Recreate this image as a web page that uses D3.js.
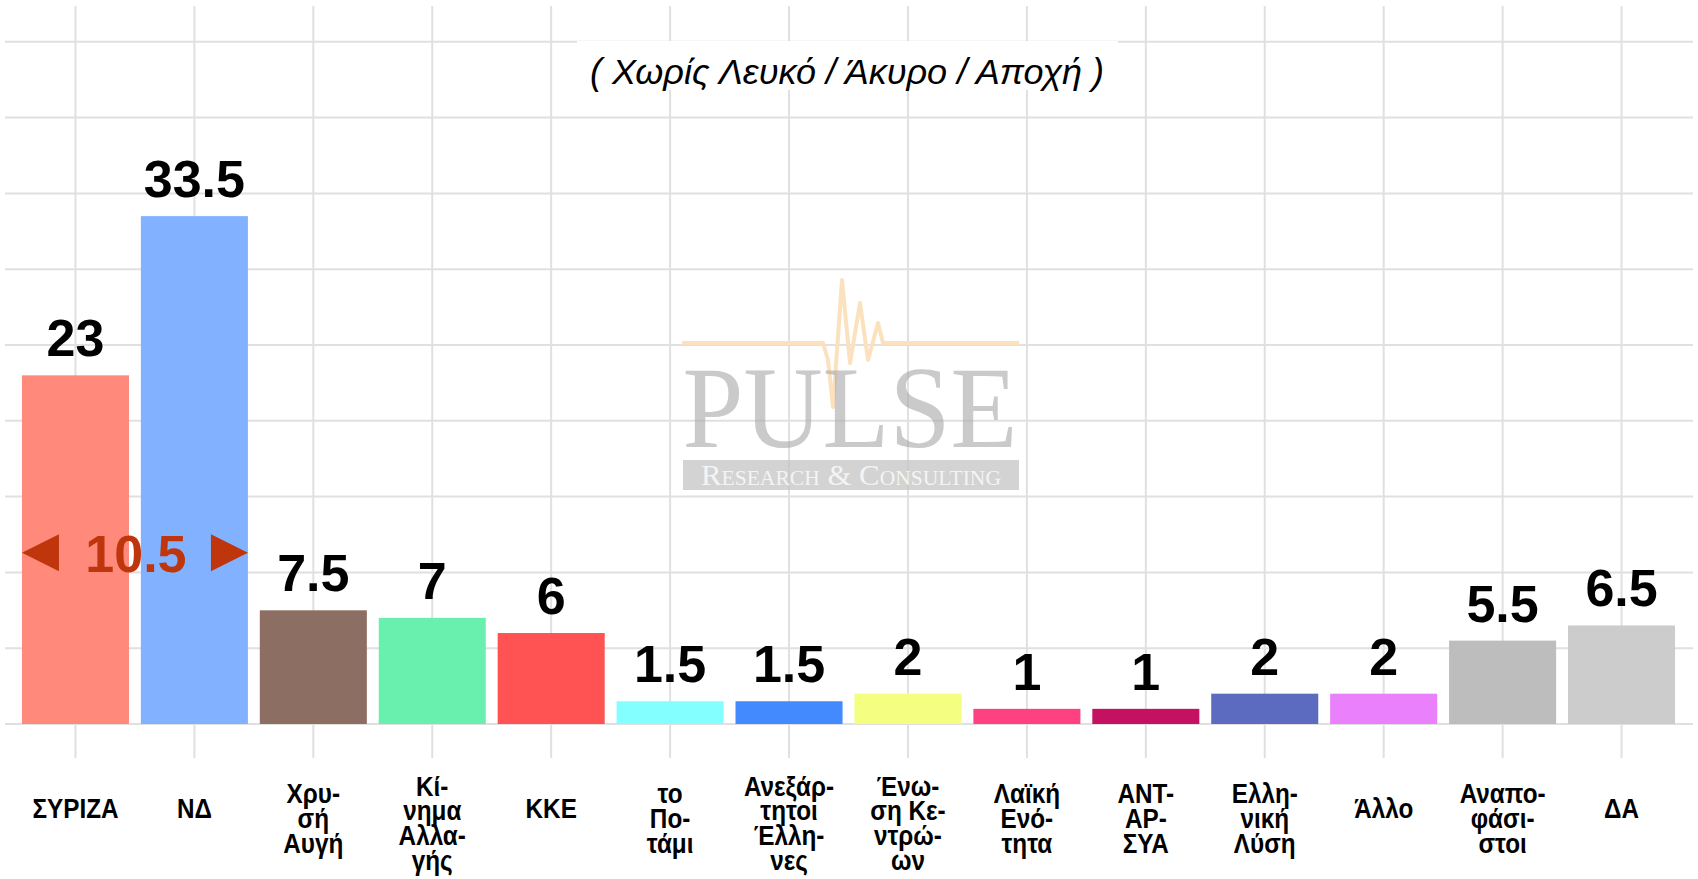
<!DOCTYPE html>
<html>
<head>
<meta charset="utf-8">
<script src="https://cdn.jsdelivr.net/npm/d3@7"></script>
<style>
  body { margin: 0; background: #fff; }
  svg { display: block; }
</style>
</head>
<body>
<svg id="pollChart" width="1698" height="879"></svg>
<script>
// poll results, percentages without blank / invalid / abstention
const parties = ["ΣΥΡΙΖΑ", "ΝΔ", "Χρυσή Αυγή", "Κίνημα Αλλαγής", "ΚΚΕ", "το Ποτάμι",
  "Ανεξάρτητοι Έλληνες", "Ένωση Κεντρώων", "Λαϊκή Ενότητα", "ΑΝΤΑΡΣΥΑ",
  "Ελληνική Λύση", "Άλλο", "Αναποφάσιστοι", "ΔΑ"];
const shares = [23, 33.5, 7.5, 7, 6, 1.5, 1.5, 2, 1, 1, 2, 2, 5.5, 6.5];
const tickLabels = [
  ["ΣΥΡΙΖΑ"], ["ΝΔ"], ["Χρυ-", "σή", "Αυγή"], ["Κί-", "νημα", "Αλλα-", "γής"], ["ΚΚΕ"],
  ["το", "Πο-", "τάμι"], ["Ανεξάρ-", "τητοι", "Έλλη-", "νες"], ["Ένω-", "ση Κε-", "ντρώ-", "ων"],
  ["Λαϊκή", "Ενό-", "τητα"], ["ΑΝΤ-", "ΑΡ-", "ΣΥΑ"], ["Ελλη-", "νική", "Λύση"], ["Άλλο"],
  ["Αναπο-", "φάσι-", "στοι"], ["ΔΑ"]
];
const barColors = ["#ff8a7c", "#82b1ff", "#8d6e63", "#69f0ae", "#ff5252", "#84ffff", "#448aff",
  "#f4ff81", "#ff4081", "#c51162", "#5c6bc0", "#ea80fc", "#bdbdbd", "#cccccc"];
const yTicks = [0, 5, 10, 15, 20, 25, 30, 35, 40, 45];
const subtitle = "( Χωρίς Λευκό / Άκυρο / Αποχή )";

var svg = d3.select("svg#pollChart");
var baseY = 724, unit = 15.16;

let xScale = d3.scaleBand().domain(parties).range([16, 1681]).paddingInner(0.1).paddingOuter(0.05);
let yScale = d3.scaleLinear().domain([0, 45]).range([baseY, baseY - 45 * unit]);
let color = d3.scaleOrdinal().domain(parties).range(barColors);
let cx = p => xScale(p) + xScale.bandwidth() / 2;

// grid
let grid = svg.append("g").attr("stroke", "#e0e0e0").attr("stroke-width", 2);
grid.selectAll("line.h").data(yTicks).enter().append("line")
  .attr("class", "h")
  .attr("x1", 5).attr("x2", 1693)
  .attr("y1", d => yScale(d)).attr("y2", d => yScale(d));
grid.selectAll("line.v").data(parties).enter().append("line")
  .attr("class", "v")
  .attr("x1", cx).attr("x2", cx)
  .attr("y1", 6).attr("y2", 758);

// watermark
let wm = svg.append("g").attr("transform", "translate(650,260)");
wm.append("path")
  .attr("d", "M32,83 L173,83 L178,100 L183,147 L192,20 L200,103 L210,43 L218,100 L228,63 L233,83 L369,83")
  .attr("fill", "none").attr("stroke", "#fbe1bd").attr("stroke-width", 4).attr("stroke-linejoin", "round");
wm.append("text")
  .attr("x", 200).attr("y", 187)
  .attr("text-anchor", "middle")
  .attr("textLength", 335).attr("lengthAdjust", "spacingAndGlyphs")
  .style("font-family", "'Liberation Serif', serif").style("font-size", "116px")
  .style("fill", "#a8a8a8").style("opacity", 0.6)
  .text("PULSE");
wm.append("rect")
  .attr("x", 33).attr("y", 200).attr("width", 336).attr("height", 30)
  .style("fill", "#c4c4c4").style("opacity", 0.75);
wm.append("text")
  .attr("x", 201).attr("y", 225)
  .attr("text-anchor", "middle")
  .attr("textLength", 300).attr("lengthAdjust", "spacingAndGlyphs")
  .style("font-family", "'Liberation Serif', serif").style("font-size", "30px")
  .style("font-variant", "small-caps").style("fill", "#f4f4f4")
  .text("Research & Consulting");

// subtitle with white box
svg.append("rect").attr("x", 577).attr("y", 41).attr("width", 541).attr("height", 49).style("fill", "#fff");
svg.append("text")
  .attr("x", 847).attr("y", 84)
  .attr("text-anchor", "middle")
  .style("font-family", "'Liberation Sans', Arial, sans-serif")
  .style("font-style", "italic").style("font-size", "36px").style("fill", "#000")
  .text(subtitle);

// bars
svg.selectAll("rect.bar").data(parties).enter().append("rect")
  .attr("class", "bar")
  .attr("x", p => xScale(p))
  .attr("y", (p, i) => yScale(shares[i]))
  .attr("width", xScale.bandwidth())
  .attr("height", (p, i) => baseY - yScale(shares[i]))
  .style("fill", p => color(p));

// value labels
svg.selectAll("text.val").data(parties).enter().append("text")
  .attr("class", "val")
  .attr("x", cx)
  .attr("y", (p, i) => yScale(shares[i]) - 19)
  .attr("text-anchor", "middle")
  .style("font-family", "'Liberation Sans', Arial, sans-serif")
  .style("font-weight", "bold").style("font-size", "52px").style("fill", "#000")
  .text((p, i) => d3.format("~g")(shares[i]));

// category labels
let cats = svg.selectAll("g.cat").data(parties).enter().append("g")
  .attr("class", "cat")
  .attr("transform", (p, i) => "translate(" + cx(p) + "," + (818 - (tickLabels[i].length - 1) * 7.5) + ") scale(0.9,1)");
cats.each(function (p, i) {
  d3.select(this).selectAll("text").data(tickLabels[i]).enter().append("text")
    .attr("y", (t, j) => j * 25)
    .attr("text-anchor", "middle")
    .style("font-family", "'Liberation Sans', Arial, sans-serif")
    .style("font-weight", "bold").style("font-size", "27px").style("fill", "#000")
    .text(t => t);
});

// lead of ND over ΣΥΡΙΖΑ
let lead = shares[1] - shares[0];
let leadY = yScale(lead) - 12;
let left = xScale(parties[0]), right = xScale(parties[1]) + xScale.bandwidth();
let ann = svg.append("g").style("fill", "#bf360c");
ann.append("path").attr("d", "M" + left + "," + leadY + " L" + (left + 37) + "," + (leadY - 18.5) + " L" + (left + 37) + "," + (leadY + 18.5) + "Z");
ann.append("path").attr("d", "M" + right + "," + leadY + " L" + (right - 37) + "," + (leadY - 18.5) + " L" + (right - 37) + "," + (leadY + 18.5) + "Z");
ann.append("text")
  .attr("x", (cx(parties[0]) + cx(parties[1])) / 2 + 1)
  .attr("y", leadY + 19)
  .attr("text-anchor", "middle")
  .style("font-family", "'Liberation Sans', Arial, sans-serif")
  .style("font-weight", "bold").style("font-size", "52px")
  .text(d3.format("~g")(lead));
</script>
</body>
</html>
